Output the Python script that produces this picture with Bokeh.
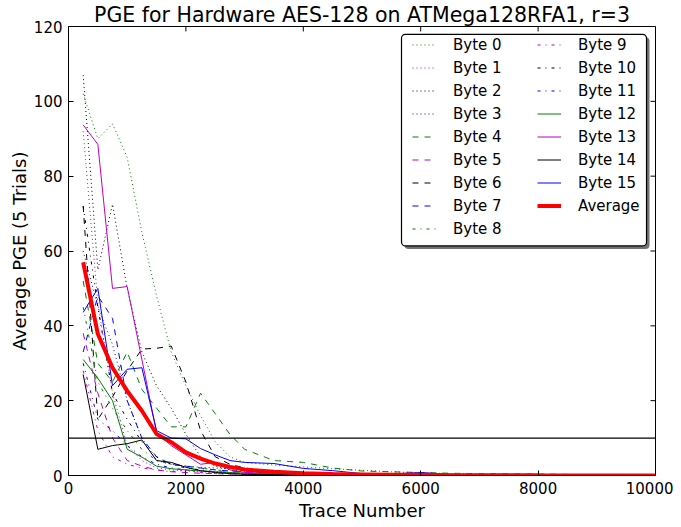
from bokeh.plotting import figure
from bokeh.models import (Legend, LegendItem, Span, Range1d,
                          FixedTicker, BoxAnnotation)
from bokeh.embed import file_html
from bokeh.resources import INLINE

# ---------------- data ----------------
trace = [250, 500, 750, 1000, 1250, 1500, 1750, 2000, 2250, 2500, 2750, 3000,
         3500, 4000, 4500, 5000, 5500, 6000, 6500, 7000, 8000, 9000, 10000]

byte0 = [102, 90, 94, 85, 65, 48, 33, 24, 16, 9, 5, 3.5, 2.8, 2.3, 1.8, 1.4, 1.0, 0.7, 0.5, 0.4, 0.2, 0.1, 0.0]
byte1 = [92, 46, 22, 8, 4, 2, 1.5, 1.2, 1.0, 0.8, 0.6, 0.5, 0.3, 0.2, 0.1, 0.1, 0, 0, 0, 0, 0, 0, 0]
byte2 = [107, 55, 72.5, 50, 33, 24, 18, 11, 5, 2.5, 1.5, 1.0, 0.6, 0.4, 0.2, 0.1, 0.1, 0, 0, 0, 0, 0, 0]
byte3 = [60, 45, 35, 20, 10, 4, 3, 2.5, 2.2, 2.0, 1.8, 1.5, 1.0, 0.6, 0.4, 0.3, 0.2, 0.1, 0.1, 0, 0, 0, 0]
byte4 = [52, 30, 25, 33, 23, 18, 13, 13, 22, 16.5, 11, 7, 4, 3.5, 2, 1.2, 1.0, 0.8, 0.6, 0.5, 0.4, 0.2, 0]
byte5 = [38, 22, 10, 4, 2.5, 1.5, 1.0, 0.8, 0.6, 0.5, 0.4, 0.3, 0.2, 0.1, 0, 0, 0, 0, 0, 0, 0, 0, 0]
byte6 = [72, 15, 21, 28, 33.8, 34, 34.6, 25, 12, 5, 3, 2, 1, 0.5, 0.3, 0.2, 0.1, 0, 0, 0, 0, 0, 0]
byte7 = [33, 48, 42, 20, 10, 5, 3, 2.5, 2, 1.5, 1.2, 1.0, 0.6, 0.4, 0.3, 0.2, 0.1, 0.1, 0, 0, 0, 0, 0]
byte8 = [45, 25, 18, 12, 7, 4, 3, 2.5, 2, 1.5, 1.2, 1.0, 0.8, 0.6, 0.5, 0.4, 0.3, 0.2, 0.1, 0.1, 0, 0, 0]
byte9 = [28, 12, 5, 3, 2, 1.5, 1.0, 1.5, 0.8, 0.5, 0.4, 0.3, 0.2, 0.1, 0, 0, 0, 0, 0, 0, 0, 0, 0]
byte10 = [72, 45, 22, 15, 9, 5, 3, 2, 1.5, 1.0, 0.8, 0.5, 0.3, 0.2, 0.1, 0.1, 0, 0, 0, 0, 0, 0, 0]
byte11 = [30, 15, 12, 8, 5, 3, 2, 1.5, 1.2, 1.0, 0.8, 0.6, 0.4, 0.3, 0.2, 0.1, 0, 0, 0, 0, 0, 0, 0]
byte12 = [31, 26, 20, 7, 4.9, 2.5, 1.8, 1.5, 1.2, 1.0, 0.8, 0.6, 0.4, 0.3, 0.2, 0.1, 0.1, 0, 0, 0, 0, 0, 0]
byte13 = [93.7, 88.5, 50, 50.5, 31, 11.5, 8, 5.5, 3, 3.5, 1.5, 0.8, 0.5, 0.3, 0.2, 0.1, 0, 0, 0, 0, 0, 0, 0]
byte14 = [27, 7, 8, 8.5, 9.5, 4, 3.5, 2.2, 1.3, 0.8, 0.5, 0.3, 0.2, 0.1, 0, 0, 0, 0, 0, 0, 0, 0, 0]
byte15 = [43.6, 50, 24, 28.4, 28.8, 12, 10, 9.8, 7.2, 5.5, 4, 3.5, 3.2, 1.9, 1.3, 0.5, 0.4, 0.8, 0.3, 0.2, 0.1, 0, 0]
average = [57, 37.8, 28.8, 22.6, 17.3, 11.1, 8.9, 6.2, 4.5, 3.2, 2.3, 1.6, 1.0, 0.6, 0.4, 0.3, 0.2, 0.2, 0.1, 0.1, 0.05, 0.02, 0]

series = [byte0, byte1, byte2, byte3, byte4, byte5, byte6, byte7, byte8,
          byte9, byte10, byte11, byte12, byte13, byte14, byte15]
labels = ["Byte %d" % i for i in range(16)]
threshold = 10
x_ticks = [0, 2000, 4000, 6000, 8000, 10000]
y_ticks = [0, 20, 40, 60, 80, 100, 120]
title_text = "PGE for Hardware AES-128 on ATMega128RFA1, r=3"

# ---------------- styles ----------------
G, M, K, B = "#008000", "#bf00bf", "#000000", "#0000ff"
colors = [G, M, K, B] * 4
dot, dash, dashdot = "1 3", "6 6", "3 5 1 5"
dashes = [dot] * 4 + [dash] * 4 + [dashdot] * 4 + ["solid"] * 4
FONT = "DejaVu Sans"
XMIN, XMAX, YMIN, YMAX = 0, 10000, 0, 120

p = figure(width=673, height=527, output_backend="svg", toolbar_location=None,
           x_range=Range1d(XMIN, XMAX), y_range=Range1d(YMIN, YMAX),
           title=title_text)
p.min_border_left = 68
p.min_border_right = 18
p.min_border_top = 24
p.min_border_bottom = 52
p.background_fill_color = "white"
p.border_fill_color = "white"
p.outline_line_color = "black"
p.outline_line_width = 1
p.xgrid.visible = False
p.ygrid.visible = False

p.title.align = "center"
p.title.text_font = FONT
p.title.text_font_size = "20.5px"
p.title.text_font_style = "normal"
p.title.text_color = "black"
p.title.standoff = 0
p.title.offset = 0

for ax, ticks in ((p.xaxis[0], x_ticks), (p.yaxis[0], y_ticks)):
    ax.ticker = FixedTicker(ticks=ticks)
    ax.major_tick_in = 5
    ax.major_tick_out = 0
    ax.minor_tick_line_color = None
    ax.axis_line_color = "black"
    ax.major_tick_line_color = "black"
    ax.major_label_text_font = FONT
    ax.major_label_text_font_size = "15px"
    ax.major_label_text_color = "black"
    ax.axis_label_text_font = FONT
    ax.axis_label_text_font_size = "18px"
    ax.axis_label_text_font_style = "normal"
    ax.axis_label_text_color = "black"
p.xaxis[0].axis_label = "Trace Number"
p.yaxis[0].axis_label = "Average PGE (5 Trials)"
p.xaxis[0].major_label_standoff = 6
p.xaxis[0].axis_label_standoff = 3
p.yaxis[0].major_label_standoff = 6
p.yaxis[0].axis_label_standoff = 1

# mirrored inner ticks on the top and right edges (5 px long)
tick_dy = 5 * (YMAX - YMIN) / 451
tick_dx = 5 * (XMAX - XMIN) / 587
p.segment(x0=x_ticks, x1=x_ticks, y0=YMAX, y1=YMAX - tick_dy, line_color="black", line_width=1)
p.segment(x0=XMAX, x1=XMAX - tick_dx, y0=y_ticks, y1=y_ticks, line_color="black", line_width=1)

renderers = []
for ys, c, d in zip(series, colors, dashes):
    r = p.line(trace, ys, line_color=c, line_dash=d, line_width=1)
    renderers.append(r)
r_avg = p.line(trace, average, line_color="#ff0000", line_width=4)

p.add_layout(Span(location=threshold, dimension="width", line_color="black",
                  line_width=1.3))

# legend frame with shadow
shadow = BoxAnnotation(left=5724, right=9898, bottom=60.56, top=117.1,
                       fill_color="#444444", fill_alpha=0.75, line_color=None,
                       border_radius=4)
box = BoxAnnotation(left=5673, right=9847, bottom=61.36, top=117.9,
                    fill_color="white", fill_alpha=1.0, line_color="black",
                    line_width=1.2, line_alpha=1.0, border_radius=4)
p.add_layout(shadow)
p.add_layout(box)

items1 = [LegendItem(label=labels[i], renderers=[renderers[i]]) for i in range(9)]
items2 = [LegendItem(label=labels[i], renderers=[renderers[i]]) for i in range(9, 16)]
items2.append(LegendItem(label="Average", renderers=[r_avg]))


def make_legend(items, loc):
    lg = Legend(items=items, location=loc, orientation="vertical")
    lg.border_line_color = None
    lg.background_fill_alpha = 0
    lg.padding = 0
    lg.margin = 0
    lg.spacing = 2
    lg.glyph_width = 24
    lg.glyph_height = 21
    lg.label_standoff = 17
    lg.label_height = 21
    lg.label_text_font = FONT
    lg.label_text_font_size = "15px"
    lg.label_text_color = "black"
    return lg


p.add_layout(make_legend(items1, (344, 236)))
p.add_layout(make_legend(items2, (469, 259)))

open("out.html", "w").write(file_html(p, INLINE))
